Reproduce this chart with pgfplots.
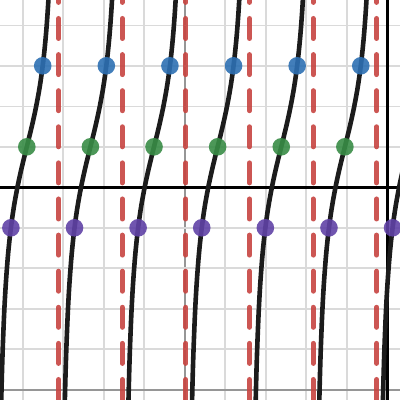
\documentclass[border=0pt]{standalone}
\usepackage{pgfplots}
\pgfplotsset{compat=1.18}
\definecolor{dblue}{RGB}{45,112,179}
\definecolor{dgreen}{RGB}{56,140,70}
\definecolor{dpurple}{RGB}{96,66,166}
\definecolor{dred}{RGB}{199,68,64}
\definecolor{dcurve}{RGB}{28,28,28}
\definecolor{gminor}{RGB}{218,218,218}
\definecolor{gmajor}{RGB}{150,150,150}
\begin{document}
\begin{tikzpicture}
\begin{axis}[
  scale only axis, width=400pt, height=400pt,
  xmin=-9.563, xmax=0.314, ymin=-5.252, ymax=4.625,
  axis line style={draw=none},
  xtick={-5,0}, ytick={-5,0},
  minor xtick={-9,-8,-7,-6,-4,-3,-2,-1},
  minor ytick={-4,-3,-2,-1,1,2,3,4},
  xticklabels={}, yticklabels={},
  major tick length=0pt, minor tick length=0pt,
  grid=both,
  minor grid style={gminor, line width=1.6pt},
  major grid style={gmajor, line width=1.6pt},
  clip marker paths=true,
]
% axes
\addplot[black, line width=2.6pt] coordinates {(-10,0) (1,0)};
\addplot[black, line width=2.6pt] coordinates {(0,-6) (0,5)};
% asymptotes
\pgfplotsset{asym/.style={dred, draw opacity=0.9, line width=5pt, line cap=round, dash pattern=on 20pt off 16.1pt, dash phase=17.6pt}}
\addplot[asym] coordinates {(-8.1158,4.625) (-8.1158,-5.4)};
\addplot[asym] coordinates {(-6.5450,4.625) (-6.5450,-5.4)};
\addplot[asym] coordinates {(-4.9742,4.625) (-4.9742,-5.4)};
\addplot[asym] coordinates {(-3.4034,4.625) (-3.4034,-5.4)};
\addplot[asym] coordinates {(-1.8326,4.625) (-1.8326,-5.4)};
\addplot[asym] coordinates {(-0.2618,4.625) (-0.2618,-5.4)};
% curve branches
\pgfplotsset{br/.style={dcurve, line width=4.6pt, smooth, line join=round}}
\addplot[br] coordinates {(-9.5612,-6.807) (-9.5312,-5.226) (-9.5012,-4.144) (-9.4612,-3.132) (-9.4212,-2.407) (-9.3712,-1.738) (-9.3212,-1.231) (-9.2612,-0.754) (-9.2012,-0.368) (-9.1212,0.058) (-9.0412,0.425) (-8.9712,0.718) (-8.9012,1) (-8.8312,1.282) (-8.7612,1.575) (-8.6812,1.942) (-8.6012,2.368) (-8.5412,2.754) (-8.4812,3.231) (-8.4312,3.738) (-8.3912,4.256) (-8.3612,4.742) (-8.3312,5.352)};
\addplot[br] coordinates {(-7.9904,-6.807) (-7.9604,-5.226) (-7.9304,-4.144) (-7.8904,-3.132) (-7.8504,-2.407) (-7.8004,-1.738) (-7.7504,-1.231) (-7.6904,-0.754) (-7.6304,-0.368) (-7.5504,0.058) (-7.4704,0.425) (-7.4004,0.718) (-7.3304,1) (-7.2604,1.282) (-7.1904,1.575) (-7.1104,1.942) (-7.0304,2.368) (-6.9704,2.754) (-6.9104,3.231) (-6.8604,3.738) (-6.8204,4.256) (-6.7904,4.742) (-6.7604,5.352)};
\addplot[br] coordinates {(-6.4196,-6.807) (-6.3896,-5.226) (-6.3596,-4.144) (-6.3196,-3.132) (-6.2796,-2.407) (-6.2296,-1.738) (-6.1796,-1.231) (-6.1196,-0.754) (-6.0596,-0.368) (-5.9796,0.058) (-5.8996,0.425) (-5.8296,0.718) (-5.7596,1) (-5.6896,1.282) (-5.6196,1.575) (-5.5396,1.942) (-5.4596,2.368) (-5.3996,2.754) (-5.3396,3.231) (-5.2896,3.738) (-5.2496,4.256) (-5.2196,4.742) (-5.1896,5.352)};
\addplot[br] coordinates {(-4.8488,-6.807) (-4.8188,-5.226) (-4.7888,-4.144) (-4.7488,-3.132) (-4.7088,-2.407) (-4.6588,-1.738) (-4.6088,-1.231) (-4.5488,-0.754) (-4.4888,-0.368) (-4.4088,0.058) (-4.3288,0.425) (-4.2588,0.718) (-4.1888,1) (-4.1188,1.282) (-4.0488,1.575) (-3.9688,1.942) (-3.8888,2.368) (-3.8288,2.754) (-3.7688,3.231) (-3.7188,3.738) (-3.6788,4.256) (-3.6488,4.742) (-3.6188,5.352)};
\addplot[br] coordinates {(-3.2780,-6.807) (-3.2480,-5.226) (-3.2180,-4.144) (-3.1780,-3.132) (-3.1380,-2.407) (-3.0880,-1.738) (-3.0380,-1.231) (-2.9780,-0.754) (-2.9180,-0.368) (-2.8380,0.058) (-2.7580,0.425) (-2.6880,0.718) (-2.6180,1) (-2.5480,1.282) (-2.4780,1.575) (-2.3980,1.942) (-2.3180,2.368) (-2.2580,2.754) (-2.1980,3.231) (-2.1480,3.738) (-2.1080,4.256) (-2.0780,4.742) (-2.0480,5.352)};
\addplot[br] coordinates {(-1.7072,-6.807) (-1.6772,-5.226) (-1.6472,-4.144) (-1.6072,-3.132) (-1.5672,-2.407) (-1.5172,-1.738) (-1.4672,-1.231) (-1.4072,-0.754) (-1.3472,-0.368) (-1.2672,0.058) (-1.1872,0.425) (-1.1172,0.718) (-1.0472,1) (-0.9772,1.282) (-0.9072,1.575) (-0.8272,1.942) (-0.7472,2.368) (-0.6872,2.754) (-0.6272,3.231) (-0.5772,3.738) (-0.5372,4.256) (-0.5072,4.742) (-0.4772,5.352)};
\addplot[br] coordinates {(-0.1364,-6.807) (-0.1064,-5.226) (-0.0764,-4.144) (-0.0364,-3.132) (0.0036,-2.407) (0.0536,-1.738) (0.1036,-1.231) (0.1636,-0.754) (0.2236,-0.368) (0.3036,0.058) (0.3836,0.425) (0.4536,0.718) (0.5236,1)};
% points
\addplot[only marks, mark=*, color=dpurple, mark size=8.8pt, mark options={solid, fill=dpurple, draw opacity=0, fill opacity=0.9}] coordinates {(-9.2939,-1) (-7.7231,-1) (-6.1523,-1) (-4.5815,-1) (-3.0107,-1) (-1.4399,-1) (0.1309,-1)};
\addplot[only marks, mark=*, color=dgreen, mark size=8.8pt, mark options={solid, fill=dgreen, draw opacity=0, fill opacity=0.9}] coordinates {(-8.9012,1) (-7.3304,1) (-5.7596,1) (-4.1888,1) (-2.6180,1) (-1.0472,1) (0.5236,1)};
\addplot[only marks, mark=*, color=dblue, mark size=8.8pt, mark options={solid, fill=dblue, draw opacity=0, fill opacity=0.9}] coordinates {(-8.5085,3) (-6.9377,3) (-5.3669,3) (-3.7961,3) (-2.2253,3) (-0.6545,3) (0.9163,3)};
\end{axis}
\pgfresetboundingbox
\useasboundingbox (current axis.south west) rectangle (current axis.north east);
\end{tikzpicture}
\end{document}
